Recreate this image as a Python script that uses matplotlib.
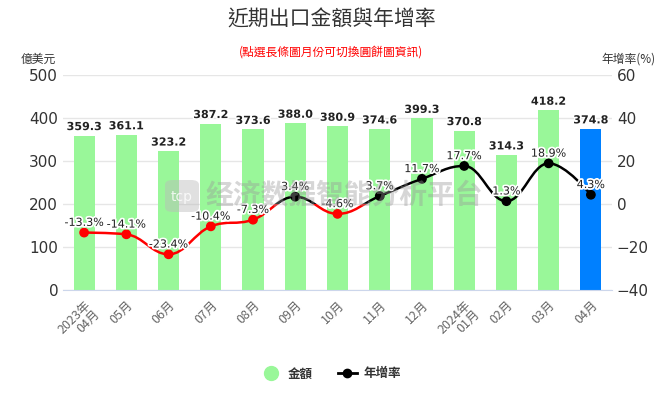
import numpy as np
import matplotlib
matplotlib.use('Agg')
import matplotlib.pyplot as plt
from matplotlib.path import Path
from matplotlib.patches import PathPatch, FancyBboxPatch
from matplotlib.lines import Line2D
import matplotlib.patheffects as pe

plt.rcParams['font.family'] = ['Noto Sans CJK TC', 'DejaVu Sans']

months = ['2023年\n04月', '05月', '06月', '07月', '08月', '09月', '10月',
          '11月', '12月', '2024年\n01月', '02月', '03月', '04月']
amount = [359.3, 361.1, 323.2, 387.2, 373.6, 388.0, 380.9,
          374.6, 399.3, 370.8, 314.3, 418.2, 374.8]
growth = [-13.3, -14.1, -23.4, -10.4, -7.3, 3.4, -4.6,
          3.7, 11.7, 17.7, 1.3, 18.9, 4.3]

x = np.arange(len(months))

fig = plt.figure(figsize=(6.63, 3.98), dpi=100)
ax = fig.add_axes([63 / 663, 108 / 398, 549 / 663, 215 / 398])
ax2 = ax.twinx()

bar_colors = ['#99f799'] * (len(x) - 1) + ['#0080ff']
ax.bar(x, amount, width=0.5, color=bar_colors, zorder=2)
for xi, v in zip(x, amount):
    ax.text(xi, v + 8, f'{v:.1f}', ha='center', va='bottom', fontsize=8,
            fontweight='bold', color='#222222', family='DejaVu Sans',
            path_effects=[pe.withStroke(linewidth=2, foreground='white')], zorder=5)

ax.set_xlim(-0.5, len(x) - 0.5)
ax.set_ylim(0, 500)
ax.set_yticks(range(0, 501, 100))
ax2.set_ylim(-40, 60)
ax2.set_yticks(range(-40, 61, 20))
ax.grid(axis='y', color='#e6e6e6', linewidth=1, zorder=0)
ax.set_axisbelow(True)
for a in (ax, ax2):
    for s in a.spines.values():
        s.set_visible(False)
    a.tick_params(length=0, labelsize=11, colors='#333333')
ax.spines['bottom'].set_visible(True)
ax.spines['bottom'].set_color('#ccd6eb')

ax.set_xticks(x)
ax.set_xticklabels(months, rotation=45, ha='right', rotation_mode='anchor',
                   fontsize=9, color='#666666', linespacing=0.95)
ax.tick_params(axis='x', pad=6)
for lab in ax.get_yticklabels() + ax2.get_yticklabels():
    lab.set_family('DejaVu Sans')

# spline in the style of Highcharts
sm = 1.5
pts_x = x.astype(float)
pts_y = np.array(growth, dtype=float)
verts = [(pts_x[0], pts_y[0])]
codes = [Path.MOVETO]
n = len(pts_x)
lc = [None] * n
rc = [None] * n
for i in range(1, n - 1):
    px, py = pts_x[i], pts_y[i]
    lx = (sm * px + pts_x[i - 1]) / (sm + 1)
    ly = (sm * py + pts_y[i - 1]) / (sm + 1)
    rx = (sm * px + pts_x[i + 1]) / (sm + 1)
    ry = (sm * py + pts_y[i + 1]) / (sm + 1)
    corr = (ry - ly) * (rx - px) / (rx - lx) + py - ry
    ly += corr
    ry += corr
    if ly > pts_y[i - 1] and ly > py:
        ly = max(pts_y[i - 1], py)
        ry = 2 * py - ly
    elif ly < pts_y[i - 1] and ly < py:
        ly = min(pts_y[i - 1], py)
        ry = 2 * py - ly
    if ry > pts_y[i + 1] and ry > py:
        ry = max(pts_y[i + 1], py)
        ly = 2 * py - ry
    elif ry < pts_y[i + 1] and ry < py:
        ry = min(pts_y[i + 1], py)
        ly = 2 * py - ry
    lc[i] = (lx, ly)
    rc[i] = (rx, ry)
for i in range(1, n):
    c1 = rc[i - 1] if rc[i - 1] is not None else (pts_x[i - 1], pts_y[i - 1])
    c2 = lc[i] if lc[i] is not None else (pts_x[i], pts_y[i])
    verts += [c1, c2, (pts_x[i], pts_y[i])]
    codes += [Path.CURVE4] * 3
curve = Path(verts, codes)

for col, lo, hi in (('#ff0000', -40, 0), ('#000000', 0, 60)):
    patch = PathPatch(curve, facecolor='none', edgecolor=col, linewidth=1.8, zorder=3)
    ax2.add_patch(patch)
    clip = plt.Rectangle((-1, lo), n + 1, hi - lo, transform=ax2.transData,
                         visible=False)
    ax2.add_patch(clip)
    patch.set_clip_path(clip)

mcol = ['#ff0000' if g < 0 else '#000000' for g in growth]
ax2.scatter(x, growth, s=36, c=mcol, zorder=4)
for xi, g in zip(x, growth):
    ax2.text(xi, g + 2.2, f'{g:.1f}%', ha='center', va='bottom', fontsize=8,
             color='#222222', family='DejaVu Sans',
             path_effects=[pe.withStroke(linewidth=2.5, foreground='white')], zorder=6)

# watermark
fig.add_artist(FancyBboxPatch((165 / 663, 1 - 212 / 398), 34 / 663, 32 / 398,
                              boxstyle='round,pad=0,rounding_size=0.012',
                              transform=fig.transFigure, facecolor='#bbbbbb',
                              edgecolor='none', alpha=0.45, zorder=7))
fig.text(182 / 663, 1 - 197 / 398, 'tcp', ha='center', va='center', color='white',
         fontsize=10, family='DejaVu Sans', alpha=0.8, zorder=8)
fig.text(205 / 663, 1 - 196 / 398, '经济数据智能分析平台', ha='left', va='center',
         color='#999999', alpha=0.4, fontsize=20, fontweight='bold',
         family=['Noto Sans CJK SC', 'DejaVu Sans'], zorder=8)

fig.text(0.5, 1 - 20 / 398, '近期出口金額與年增率', ha='center', va='center',
         fontsize=15, color='#333333')
fig.text(0.5, 1 - 52 / 398, '(點選長條圖月份可切換圓餅圖資訊)', ha='center',
         va='center', fontsize=8.5, color='#ff0000')
fig.text(38 / 663, 1 - 59 / 398, '億美元', ha='center', va='center', fontsize=8.5,
         color='#333333')
fig.text(629 / 663, 1 - 59 / 398, '年增率(%)', ha='center', va='center', fontsize=8.5,
         color='#333333')

handles = [Line2D([], [], marker='o', linestyle='none', markersize=10,
                  markerfacecolor='#99f799', markeredgecolor='#99f799'),
           Line2D([], [], marker='o', color='black', linewidth=2, markersize=6)]
leg = fig.legend(handles, ['金額', '年增率'], loc='center', ncol=2,
                 bbox_to_anchor=(0.5, 1 - 374 / 398), frameon=False,
                 prop={'size': 9, 'weight': 'bold'}, handlelength=1.5,
                 columnspacing=2, handletextpad=0.6)
for t in leg.get_texts():
    t.set_color('#333333')

fig.savefig('out.png', dpi=100)
